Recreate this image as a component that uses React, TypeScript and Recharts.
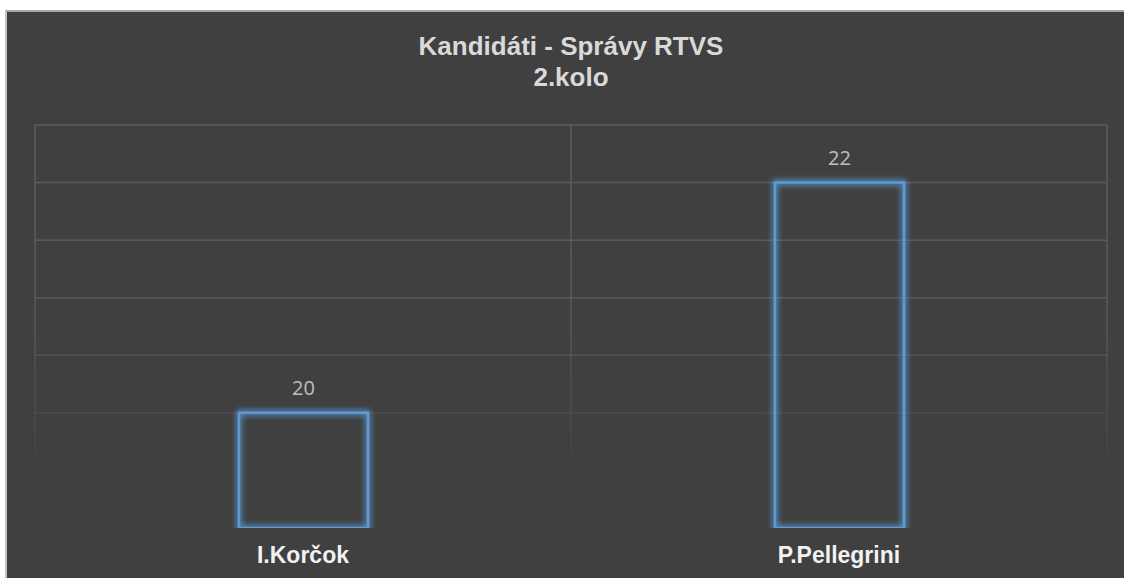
import { BarChart, Bar, XAxis, YAxis, CartesianGrid, LabelList } from "recharts";

// candidates and their counts (RTVS news, 2nd round)
const candidates = ["I.Korčok", "P.Pellegrini"];
const counts = [20, 22];
const yTicks = [19, 19.5, 20, 20.5, 21, 21.5, 22, 22.5];
const titleLines = ["Kandidáti - Správy RTVS", "2.kolo"];

const chartData = candidates.map((name, i) => ({ name, value: counts[i] }));

const W = 1124;
const H = 578;

const App = () => {
  return (
    <div style={{ position: "absolute", left: 0, top: 0, width: W, height: H, background: "#ffffff", overflow: "hidden" }}>
      <div
        style={{
          position: "absolute",
          left: 5,
          top: 10,
          right: 0,
          bottom: 0,
          background: "#404040",
          borderLeft: "2px solid #c4c4c4",
          borderTop: "2px solid #a8a8a8",
        }}
      />
      <svg width={W} height={120} style={{ position: "absolute", left: 0, top: 0 }}>
        {titleLines.map((t, i) => (
          <text
            key={t}
            x={571}
            y={55 + i * 31}
            textAnchor="middle"
            fill="#d9d9d9"
            fontFamily="Liberation Sans, Arial, sans-serif"
            fontWeight="bold"
            fontSize={26}
          >
            {t}
          </text>
        ))}
      </svg>
      <div style={{ position: "absolute", left: 0, top: 0 }}>
        <BarChart
          width={W}
          height={H}
          data={chartData}
          margin={{ top: 125, right: 17, left: 35, bottom: 10 }}
          barSize={129}
        >
          <defs>
            <linearGradient id="gridFade" gradientUnits="userSpaceOnUse" x1="0" y1="125" x2="0" y2="528">
              <stop offset="0" stopColor="#5c5c5c" stopOpacity={1} />
              <stop offset="0.45" stopColor="#5c5c5c" stopOpacity={0.9} />
              <stop offset="0.88" stopColor="#5c5c5c" stopOpacity={0} />
              <stop offset="1" stopColor="#5c5c5c" stopOpacity={0} />
            </linearGradient>
            <filter id="glow" x="-20%" y="-20%" width="140%" height="140%">
              <feGaussianBlur in="SourceGraphic" stdDeviation="3" result="blur" />
              <feMerge>
                <feMergeNode in="blur" />
                <feMergeNode in="blur" />
                <feMergeNode in="SourceGraphic" />
              </feMerge>
            </filter>
          </defs>
          <CartesianGrid
            stroke="url(#gridFade)"
            strokeWidth={1.5}
            verticalCoordinatesGenerator={({ offset }: any) => [
              offset.left,
              offset.left + offset.width / 2,
              offset.left + offset.width,
            ]}
          />
          <XAxis
            dataKey="name"
            axisLine={false}
            tickLine={false}
            tickSize={0}
            tickMargin={19}
            height={40}
            interval={0}
            tick={{ fill: "#f2f2f2", fontSize: 23, fontWeight: "bold", fontFamily: "Liberation Sans, Arial, sans-serif" }}
          />
          <YAxis hide domain={[19, 22.5]} ticks={yTicks} allowDataOverflow />
          <Bar
            dataKey="value"
            fill="none"
            stroke="#5b9bd5"
            strokeWidth={2.5}
            filter="url(#glow)"
            isAnimationActive={false}
          >
            <LabelList
              dataKey="value"
              position="top"
              offset={18}
              fill="#bfbfbf"
              fontSize={20}
              fontFamily="Open Sans, sans-serif"
            />
          </Bar>
        </BarChart>
      </div>
    </div>
  );
};

export default App;
